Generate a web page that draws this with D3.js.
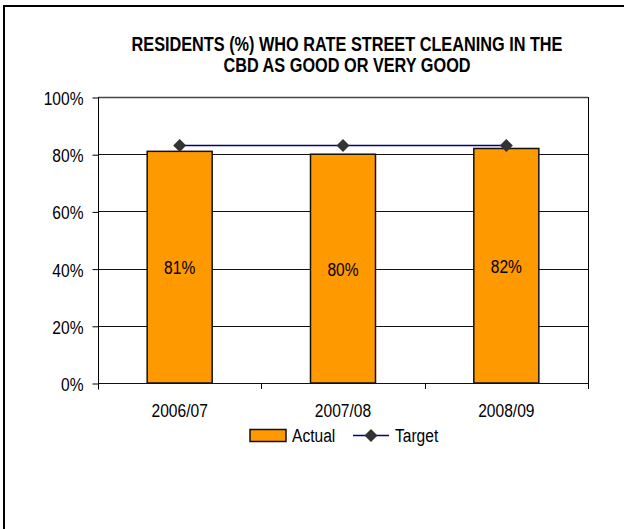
<!DOCTYPE html>
<html>
<head>
<meta charset="utf-8">
<script src="https://cdn.jsdelivr.net/npm/d3@7"></script>
<style>
  html, body { margin: 0; padding: 0; background: #fff; }
  svg { display: block; }
  text { font-family: "Liberation Sans", Arial, sans-serif; fill: #000; }
</style>
</head>
<body>
<svg id="chart" width="624" height="529"></svg>
<script>
// Survey periods and results
const periods = ["2006/07", "2007/08", "2008/09"];
const actual = [81, 80, 82];
const target = [83, 83, 83];
const yTicks = [0, 20, 40, 60, 80, 100];
const titleLines = [
  "RESIDENTS (%) WHO RATE STREET CLEANING IN THE",
  "CBD AS GOOD OR VERY GOOD"
];

// Horizontal compression giving the narrow-sans look
const SQUEEZE = 0.82;
function place(sel, fx, fy, k = SQUEEZE) {
  sel.attr("x", 0).attr("y", 0)
    .attr("transform", (d, i) => `translate(${fx(d, i)},${fy(d, i)}) scale(${k},1)`);
}

const svg = d3.select("#chart");

// Outer frame (top and left edges)
svg.append("path")
  .attr("d", "M4,529 V6 H624")
  .attr("fill", "none")
  .attr("stroke", "#000")
  .attr("stroke-width", 2);

const plot = { left: 98, right: 588, top: 97, bottom: 383 };

const x = d3.scaleBand()
  .domain(periods)
  .range([plot.left, plot.right])
  .paddingInner(0.602)
  .paddingOuter(0.301);

const y = d3.scaleLinear()
  .domain([0, 100])
  .range([plot.bottom, plot.top]);

// Title
svg.append("g").selectAll("text")
  .data(titleLines)
  .join("text")
  .attr("text-anchor", "middle")
  .attr("font-weight", "bold")
  .attr("font-size", 19.5)
  .text(d => d)
  .call(place, () => 347, (d, i) => 50.5 + i * 21.5, 0.835);

// Horizontal gridlines
svg.append("g").selectAll("line")
  .data(yTicks)
  .join("line")
  .attr("x1", plot.left)
  .attr("x2", plot.right)
  .attr("y1", d => Math.round(y(d)) + 0.5)
  .attr("y2", d => Math.round(y(d)) + 0.5)
  .attr("stroke", d => d === 100 ? "#444" : "#111")
  .attr("stroke-width", d => d === 100 ? 1.6 : 1);

// Right edge of plot area
svg.append("line")
  .attr("x1", plot.right + 0.5).attr("x2", plot.right + 0.5)
  .attr("y1", plot.top).attr("y2", plot.bottom + 6)
  .attr("stroke", "#000");

// Y axis
const yAxis = d3.axisLeft(y)
  .tickValues(yTicks)
  .tickFormat(d => d + "%")
  .tickSize(6)
  .tickPadding(9);
const gy = svg.append("g")
  .attr("transform", `translate(${plot.left + 0.5},0.5)`)
  .call(yAxis);
gy.select(".domain").attr("stroke", "#000").attr("d", `M0,${plot.top}V${plot.bottom + 6}`);
gy.selectAll(".tick line").attr("stroke", "#000");
gy.selectAll(".tick text")
  .attr("font-size", 19)
  .attr("font-family", null)
  .attr("fill", "#000")
  .attr("dy", null)
  .attr("x", 0)
  .attr("transform", `translate(-15,7) scale(${SQUEEZE},1)`);

// X axis: ticks at category boundaries
const boundaryPositions = d3.range(periods.length + 1)
  .map(i => plot.left + i * (plot.right - plot.left) / periods.length);
svg.append("g").selectAll("line")
  .data(boundaryPositions)
  .join("line")
  .attr("x1", d => Math.round(d) + 0.5)
  .attr("x2", d => Math.round(d) + 0.5)
  .attr("y1", plot.bottom)
  .attr("y2", plot.bottom + 6)
  .attr("stroke", "#000");

svg.append("g").selectAll("text")
  .data(periods)
  .join("text")
  .attr("text-anchor", "middle")
  .attr("font-size", 19)
  .text(d => d)
  .call(place, d => x(d) + x.bandwidth() / 2, () => 417);

// Bars
const bars = periods.map((p, i) => ({ p, v: actual[i] }));
svg.append("g").selectAll("rect")
  .data(bars)
  .join("rect")
  .attr("x", d => x(d.p))
  .attr("y", d => y(d.v))
  .attr("width", x.bandwidth())
  .attr("height", d => y(0) - y(d.v))
  .attr("fill", "#FF9900")
  .attr("stroke", "#111")
  .attr("stroke-width", 1.5);

// Value labels centred in each bar
svg.append("g").selectAll("text")
  .data(bars)
  .join("text")
  .attr("text-anchor", "middle")
  .attr("font-size", 19)
  .text(d => d.v + "%")
  .call(place, d => x(d.p) + x.bandwidth() / 2, d => y(d.v / 2) + 7);

// Target line with diamond markers
const tgt = periods.map((p, i) => ({ p, v: target[i] }));
const line = d3.line()
  .x(d => x(d.p) + x.bandwidth() / 2)
  .y(d => y(d.v));
svg.append("path")
  .datum(tgt)
  .attr("d", line)
  .attr("fill", "none")
  .attr("stroke", "#000080")
  .attr("stroke-width", 1.5);

const diamond = "M0,-6.5L6.5,0L0,6.5L-6.5,0Z";
svg.append("g").selectAll("path")
  .data(tgt)
  .join("path")
  .attr("transform", d => `translate(${x(d.p) + x.bandwidth() / 2},${y(d.v)})`)
  .attr("d", diamond)
  .attr("fill", "#333");

// Legend
const legend = svg.append("g");
legend.append("rect")
  .attr("x", 250).attr("y", 429.5)
  .attr("width", 36).attr("height", 12)
  .attr("fill", "#FF9900")
  .attr("stroke", "#111")
  .attr("stroke-width", 1.5);
legend.append("text")
  .attr("font-size", 19)
  .text("Actual")
  .call(place, () => 292, () => 442);
legend.append("line")
  .attr("x1", 353).attr("x2", 389)
  .attr("y1", 435.5).attr("y2", 435.5)
  .attr("stroke", "#000080")
  .attr("stroke-width", 1.5);
legend.append("path")
  .attr("transform", "translate(371,435.5)")
  .attr("d", diamond)
  .attr("fill", "#333");
legend.append("text")
  .attr("font-size", 19)
  .text("Target")
  .call(place, () => 395, () => 442);
</script>
</body>
</html>
